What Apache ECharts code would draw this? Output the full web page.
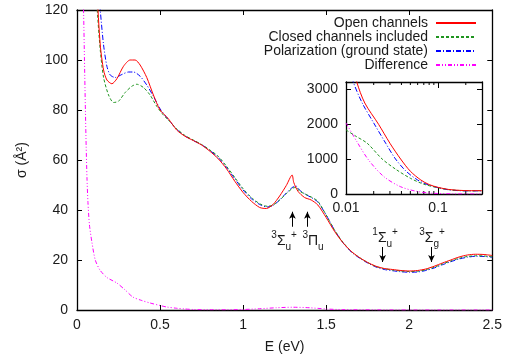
<!DOCTYPE html>
<html><head><meta charset="utf-8">
<script src="https://cdn.jsdelivr.net/npm/echarts@6/dist/echarts.min.js"></script>
<style>html,body{margin:0;padding:0;background:#fff}#c{width:505px;height:359px}</style>
</head><body><div id="c"></div>
<script>
// ---- data (E in eV, sigma in Å^2) ----
const openChannels = [[0.10,160],[0.12,128],[0.14,106],[0.16,96],[0.18,92],[0.21,90.5],[0.24,92.5],[0.28,97.5],[0.32,100],[0.35,100],[0.38,98],[0.42,93],[0.46,86],[0.50,80],[0.55,76.5],[0.60,72],[0.65,69.5],[0.70,67.8],[0.75,66],[0.80,63.5],[0.85,60.5],[0.90,56.5],[0.95,51.5],[1.00,47],[1.05,43.5],[1.10,41],[1.14,40.6],[1.18,42.2],[1.22,45.6],[1.26,49.8],[1.295,54],[1.305,51],[1.33,47.5],[1.37,45],[1.41,44],[1.45,42],[1.50,37],[1.55,31.5],[1.60,27],[1.65,23.5],[1.70,21],[1.75,19],[1.80,17.5],[1.85,16.6],[1.90,16.2],[1.95,15.8],[2.00,15.6],[2.05,15.8],[2.10,16.4],[2.15,17.5],[2.20,18.8],[2.25,20],[2.30,21.2],[2.35,22],[2.40,22.3],[2.45,22.2],[2.50,21.8]];
const closedChannels = [[0.10,150],[0.12,122],[0.14,104],[0.16,93],[0.19,86],[0.22,83],[0.25,83.5],[0.29,87],[0.33,89.5],[0.36,90.3],[0.40,89],[0.44,86],[0.48,81.5],[0.52,78],[0.55,76],[0.60,72.5],[0.65,69.8],[0.70,68],[0.75,66.2],[0.80,64],[0.85,61.5],[0.90,57.5],[0.95,53],[1.00,48.5],[1.05,45],[1.10,42.5],[1.145,41.5],[1.18,42],[1.22,44],[1.26,46.5],[1.30,48.8],[1.32,49],[1.34,47.5],[1.37,46.5],[1.41,45.2],[1.45,43.5],[1.50,38],[1.55,32],[1.60,27.2],[1.65,23.5],[1.70,21],[1.75,19],[1.80,17.4],[1.85,16.5],[1.90,16],[1.95,15.6],[2.00,15.4],[2.05,15.5],[2.10,16.1],[2.15,17.1],[2.20,18.4],[2.25,19.6],[2.30,20.7],[2.35,21.4],[2.40,21.7],[2.45,21.6],[2.50,21.3]];
const polarization = [[0.12,138],[0.14,120],[0.16,106],[0.18,97.5],[0.20,94],[0.23,93],[0.27,94.2],[0.31,95.2],[0.34,95.2],[0.38,93.5],[0.42,90],[0.46,85.5],[0.50,80.5],[0.55,76.2],[0.60,72.3],[0.65,69.6],[0.70,67.8],[0.75,66.1],[0.80,63.8],[0.85,61],[0.90,57],[0.95,52.5],[1.00,48],[1.05,44.5],[1.10,42.2],[1.145,41.2],[1.18,41.8],[1.22,44],[1.26,46.8],[1.30,49.2],[1.32,49.5],[1.34,48],[1.37,46.5],[1.41,45],[1.45,43.2],[1.50,38],[1.55,32],[1.60,27],[1.65,23.3],[1.70,20.8],[1.75,18.8],[1.80,17.2],[1.85,16.2],[1.90,15.7],[1.95,15.3],[2.00,15.1],[2.05,15.2],[2.10,15.8],[2.15,16.8],[2.20,18.1],[2.25,19.3],[2.30,20.4],[2.35,21.1],[2.40,21.5],[2.45,21.4],[2.50,21.1]];
const difference = [[0.035,130],[0.04,118],[0.045,100],[0.05,82],[0.055,66],[0.06,53],[0.066,43],[0.075,34],[0.09,27],[0.11,20],[0.138,16],[0.18,13],[0.24,10.8],[0.29,8],[0.336,5.2],[0.39,3.8],[0.44,2.8],[0.50,1.8],[0.54,1.2],[0.60,0.7],[0.65,0.4],[0.70,0.2],[0.80,0.1],[0.90,0.1],[1.00,0.2],[1.10,0.5],[1.20,0.9],[1.30,1.1],[1.40,0.9],[1.50,0.4],[1.60,0.15],[1.80,0.05],[2.00,0],[2.50,0]];
// inset (log E)
const insetOpen = [[0.012,3700],[0.0131,3200],[0.016,2600],[0.0226,1990],[0.03,1450],[0.0392,1000],[0.05,650],[0.065,400],[0.08,270],[0.1,190],[0.13,130],[0.17,105],[0.22,95],[0.3,95]];
const insetClosed = [[0.01,1830],[0.013,1640],[0.017,1450],[0.0247,1000],[0.035,700],[0.05,450],[0.07,280],[0.1,180],[0.13,125],[0.17,100],[0.22,92],[0.3,95]];
const insetPolar = [[0.011,3600],[0.012,3200],[0.015,2600],[0.0203,2000],[0.027,1450],[0.0345,1000],[0.045,650],[0.06,400],[0.08,250],[0.1,180],[0.13,120],[0.17,95],[0.22,88],[0.3,90]];
const insetDiff = [[0.01,2030],[0.0131,1500],[0.0176,970],[0.0257,500],[0.039,210],[0.06,70],[0.09,20],[0.15,5],[0.3,2]];
const insetMinorTicks = [0.02,0.03,0.04,0.05,0.06,0.07,0.08,0.09,0.2];
// annotations: [E, sigmaStart, sigmaEnd]
const arrows = [[1.297,33.3,39.3],[1.387,33.3,39.3],[1.84,25.2,19.2],[2.134,25.2,19.2]];
const stateLabels = [[1.247,27.6,'3','Σ','u','+'],[1.421,27.6,'3','Π','u',''],[1.855,28.6,'1','Σ','u','+'],[2.137,28.6,'3','Σ','g','+']];
const names = ['Open channels','Closed channels included','Polarization (ground state)','Difference'];

const FONT = 'Liberation Sans';
const TXT = '#1a1a1a';
const colors = ['#ff0000','#1f941f','#0000ff','#ff00ff'];
const dashes = ['solid',[3,2],[5,2,1,2],[4,2,1,2,1,2]];

function axisBase(extra){
  return Object.assign({
    axisLine:{show:true,onZero:false,lineStyle:{color:'#000',width:1.3}},
    axisTick:{show:true,inside:true,length:5,lineStyle:{color:'#000',width:1}},
    axisLabel:{show:true,color:TXT,fontFamily:FONT,fontSize:14},
    splitLine:{show:false}
  }, extra);
}
const noLabel = {show:false};

const series = [];
[openChannels,closedChannels,polarization,difference].forEach((d,i)=>{
  series.push({name:names[i],type:'line',xAxisIndex:0,yAxisIndex:0,data:d,showSymbol:false,symbol:'none',smooth:0.25,clip:true,
    lineStyle:{color:colors[i],width:1,type:dashes[i]},itemStyle:{color:colors[i]},z:3-i+5});
});
[insetOpen,insetClosed,insetPolar,insetDiff].forEach((d,i)=>{
  series.push({name:names[i]+' ','type':'line',xAxisIndex:2,yAxisIndex:2,data:d,showSymbol:false,symbol:'none',smooth:0.3,clip:true,
    lineStyle:{color:colors[i],width:1,type:dashes[i]},z:3-i+5});
});
series.push({type:'custom',xAxisIndex:2,yAxisIndex:2,data:insetMinorTicks.map(v=>[v]),clip:false,
  renderItem:function(params,api){
    const v = api.value(0);
    const b = api.coord([v,0]);
    const t = api.coord([v,3200]);
    return {type:'group',children:[
      {type:'line',shape:{x1:b[0],y1:b[1],x2:b[0],y2:b[1]-3},style:{stroke:'#000',lineWidth:1}},
      {type:'line',shape:{x1:t[0],y1:t[1],x2:t[0],y2:t[1]+3},style:{stroke:'#000',lineWidth:1}}
    ]};
  }});
series.push({type:'line',xAxisIndex:0,yAxisIndex:0,data:[],name:'annot',
  markLine:{silent:true,symbol:['none','arrow'],symbolSize:[5,7],animation:false,
    lineStyle:{color:'#000',width:1,type:'solid'},label:{show:false},
    data:arrows.map(a=>[{coord:[a[0],a[1]]},{coord:[a[0],a[2]]}])},
  markPoint:{silent:true,symbol:'circle',symbolSize:0,animation:false,
    data:stateLabels.map(s=>({coord:[s[0],s[1]],label:{show:true,position:'inside',
      formatter:'{sup|'+s[2]+'}{m|'+s[3]+'}{sub|'+s[4]+'}{sup|'+s[5]+'}',
      rich:{
        m:{fontFamily:FONT,fontSize:14,color:TXT,lineHeight:22,verticalAlign:'middle'},
        sup:{fontFamily:FONT,fontSize:10,color:TXT,lineHeight:22,verticalAlign:'top'},
        sub:{fontFamily:FONT,fontSize:10,color:TXT,lineHeight:22,verticalAlign:'bottom'}
      }}}))}
});

const option = {
  animation:false,
  backgroundColor:'#fff',
  textStyle:{fontFamily:FONT},
  legend:{data:names,orient:'vertical',right:28,top:16,align:'right',itemWidth:40,itemHeight:10,itemGap:0,padding:0,
    itemStyle:{opacity:0,borderWidth:0},
    textStyle:{fontFamily:FONT,fontSize:14,lineHeight:14,color:TXT,padding:[0,3,0,0]}},
  grid:[{left:77,top:10,right:11,bottom:49},{left:346,top:82,width:136,height:112,backgroundColor:'#fff',show:true,borderWidth:0}],
  xAxis:[
    axisBase({type:'value',gridIndex:0,min:0,max:2.5,interval:0.5,name:'E (eV)',nameLocation:'middle',nameGap:30,
      nameTextStyle:{fontFamily:FONT,fontSize:14,color:TXT},axisLabel:{color:TXT,fontFamily:FONT,fontSize:14,margin:8}}),
    axisBase({type:'value',gridIndex:0,min:0,max:2.5,interval:0.5,position:'top',axisLabel:noLabel}),
    axisBase({type:'log',logBase:10,gridIndex:1,min:0.01,max:0.3,axisTick:{show:true,inside:true,length:6,lineStyle:{color:'#000'}},
      axisLabel:{color:TXT,fontFamily:FONT,fontSize:14,margin:7,showMaxLabel:false,formatter:v=>String(parseFloat((+v).toPrecision(3)))}}),
    axisBase({type:'log',logBase:10,gridIndex:1,min:0.01,max:0.3,position:'top',axisTick:{show:true,inside:true,length:6,lineStyle:{color:'#000'}},axisLabel:noLabel})
  ],
  yAxis:[
    axisBase({type:'value',gridIndex:0,min:0,max:120,interval:20,name:'σ (Å²)',nameLocation:'middle',nameGap:48,nameRotate:90,
      nameTextStyle:{fontFamily:FONT,fontSize:14,color:TXT},axisLabel:{color:TXT,fontFamily:FONT,fontSize:14,margin:9}}),
    axisBase({type:'value',gridIndex:0,min:0,max:120,interval:20,position:'right',axisLabel:noLabel}),
    axisBase({type:'value',gridIndex:1,min:0,max:3200,interval:1000,axisLabel:{color:TXT,fontFamily:FONT,fontSize:14,margin:8,showMaxLabel:false,formatter:v=>String(v)}}),
    axisBase({type:'value',gridIndex:1,min:0,max:3200,interval:1000,position:'right',axisLabel:noLabel})
  ],
  series:series
};
const chart = echarts.init(document.getElementById('c'),null,{renderer:'canvas'});
chart.setOption(option);
</script></body></html>
